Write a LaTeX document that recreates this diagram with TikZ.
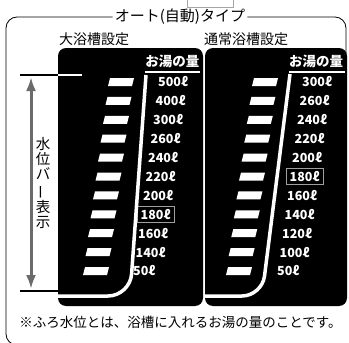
\documentclass[tikz,border=0pt]{standalone}
\usepackage{fontspec}
\usepackage{graphicx}
\usepackage{tikz}
\usetikzlibrary{arrows.meta}
\newfontfamily\jp{Noto Sans CJK JP}

\begin{document}
\begin{tikzpicture}[x=1pt,y=-1pt,
		heading/.style={font=\jp\fontsize{14}{14}\selectfont, inner sep=0pt},
		amount/.style={font=\jp\bfseries\fontsize{12.5}{12.5}\selectfont, text=white, anchor=west, inner sep=1pt},
		amounthead/.style={font=\jp\bfseries\fontsize{13.5}{13.5}\selectfont, text=white, inner sep=1pt},
		pickbox/.style={draw=gray!75, line width=1pt, inner sep=0pt, minimum width=37pt, minimum height=16pt},
		guide/.style={white, line width=3.5pt},
		marker/.style={line width=1.4pt}]
	\useasboundingbox (0,0) rectangle (349,343);
		% piece of the box above
		\draw[gray!70, line width=1pt] (187,-6) rectangle (233,7);
		% frame
		\node[heading, font=\jp\fontsize{15}{15}\selectfont] (kind) at (180,17) {オート(自動)タイプ};
		\draw[line width=0.8pt, rounded corners=11pt] ([xshift=-2pt]kind.west) -- (6,17) -- (6,345) -- (40,345);
		\draw[line width=0.8pt, rounded corners=11pt] ([xshift=2pt]kind.east) -- (346,17) -- (346,60);
		\node[heading, anchor=west] (bigtub) at (59,39) {大浴槽設定};
		\node[heading, anchor=west] (normaltub) at (204,39) {通常浴槽設定};
		% big tub
		\begin{scope}
			\fill[rounded corners=8pt] (58,48) rectangle (203,306);
			\node[amounthead] (headA) at (172.5,61) {お湯の量};
			\draw[white, line width=1.2pt] (145,72) -- (200,72);
			\foreach \v [count=\i from 0] in {500,400,300,260,240,220,200,180,160,140,50} {
				\pgfmathsetmacro\y{82+18.9*\i}
				\pgfmathsetmacro\x{109-2.5*\i}
				\fill[white] (\x+1,\y-4) -- (\x+25,\y-4) -- (\x+23,\y+4) -- (\x-1,\y+4) -- cycle;
				\node[amount] (a\i) at ({157-2.5*\i},\y) {\v ℓ};
			}
			\node[pickbox] (pickA) at ([xshift=0.5pt]a7.center) {};
			\draw[guide, rounded corners=22pt] (146,75) -- (130,296) -- (58,296);
		\end{scope}
		% normal tub
		\begin{scope}
			\fill[rounded corners=8pt] (205,48) rectangle (347,306);
			\node[amounthead] (headB) at (316,61) {お湯の量};
			\draw[white, line width=1.2pt] (289,72) -- (345,72);
			\foreach \v [count=\i from 0] in {300,260,240,220,200,180,160,140,120,100,50} {
				\pgfmathsetmacro\y{82+18.9*\i}
				\pgfmathsetmacro\x{253-2.6*\i}
				\fill[white] (\x+1,\y-4) -- (\x+25,\y-4) -- (\x+23,\y+4) -- (\x-1,\y+4) -- cycle;
				\node[amount] (b\i) at ({301-2.5*\i},\y) {\v ℓ};
			}
			\node[pickbox] (pickB) at ([xshift=0.5pt]b5.center) {};
			\draw[guide, rounded corners=20pt] (290,74) -- (262,296) -- (205,296);
		\end{scope}
		% water level bar
		\draw[marker] (20,75) -- (58,75);
		\draw[marker, white] (58,75) -- (82,75);
		\draw[marker] (20,291) -- (58,291);
		\draw[{Latex[length=14pt,width=10pt]}-{Latex[length=14pt,width=10pt]}, line width=3pt, black!58] (31,77) -- (31,289);
		\node[heading, align=center, font=\jp\fontsize{14.5}{15.2}\selectfont] (levelbar) at (43,183) {水\\位\\バ\\\rotatebox[origin=c]{90}{ー}\\表\\示};
		\node[heading, font=\jp\fontsize{13.5}{13.5}\selectfont] (note) at (180.5,322) {※ふろ水位とは、浴槽に入れるお湯の量のことです。};
	\end{tikzpicture}
\end{document}
